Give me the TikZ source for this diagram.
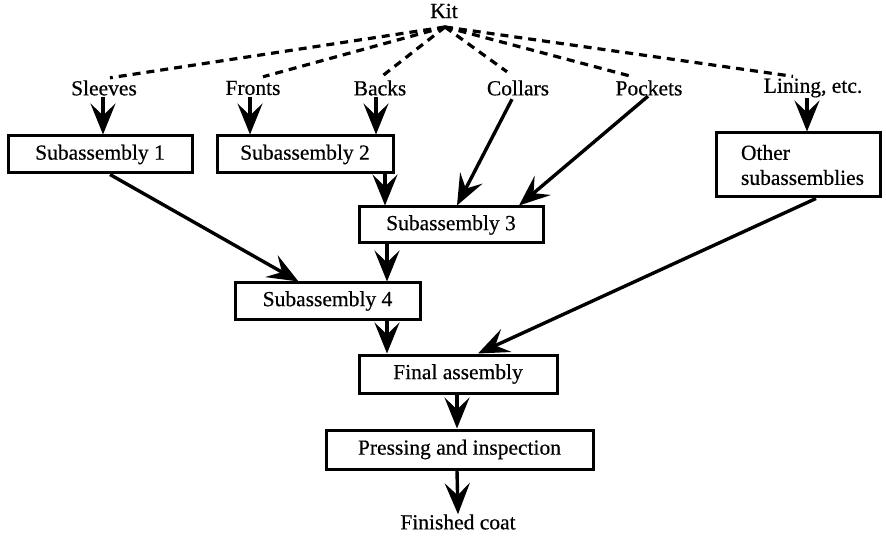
\documentclass[tikz,border=0pt]{standalone}
\usepackage{fontspec}
\setmainfont{Liberation Serif}[FakeBold=0.5]
\usetikzlibrary{arrows.meta,calc}
\begin{document}
\begin{tikzpicture}[x=1pt,y=-1pt,
  every node/.style={font=\fontsize{21.5}{24}\selectfont, inner sep=0pt},
  box/.style={draw, line width=3pt, minimum height=37pt},
  lbl/.style={minimum height=18pt},
  arr/.style={line width=3.4pt, -{Stealth[length=31pt,width=25pt,inset=12pt]}},
  dsh/.style={line width=3.2pt, dash pattern=on 8pt off 6pt}]
\useasboundingbox (0,0) rectangle (886,537);
% labels
\node (kit) at (444,11) {Kit};
\coordinate (apex) at (445,27);
\node[lbl] (sleeves) at (104,88) {Sleeves};
\node[lbl] (fronts) at (253,88) {Fronts};
\node[lbl] (backs) at (380,88) {Backs};
\node[lbl] (collars) at (518,88) {Collars};
\node[lbl] (pockets) at (649,88) {Pockets};
\node[lbl] (lining) at (813,88) {Lining, etc.};
% boxes
\node[box, minimum width=184pt] (s1) at (100,154.5) {Subassembly 1};
\node[box, minimum width=176pt] (s2) at (305,154.5) {Subassembly 2};
\node[box, minimum width=184pt, minimum height=36pt] (s3) at (451,225) {Subassembly 3};
\node[box, minimum width=185pt, minimum height=36pt] (s4) at (327.5,301) {Subassembly 4};
\node[box, minimum width=164pt, minimum height=64pt, align=left, text width=114pt] (oth) at (798,165) {Other\\[1pt]subassemblies};
\node[box, minimum width=198pt, minimum height=38pt] (fin) at (458,374) {Final assembly};
\node[box, minimum width=267pt, minimum height=39pt] (prs) at (459.5,449.5) {Pressing and inspection};
\node (coat) at (458,522) {Finished coat};
% dashed lines from kit
\draw[dsh] (apex) -- ($(sleeves.north)+(6,-1)$);
\draw[dsh] (apex) -- ($(fronts.north)+(10,-2)$);
\draw[dsh] (apex) -- ($(backs.north)+(0,-1)$);
\draw[dsh] (apex) -- ($(collars.north)+(-11,-7)$);
\draw[dsh] (apex) -- ($(pockets.north)+(-16,-2)$);
\draw[dsh] (apex) -- ($(lining.north)+(-20,-2)$);
% arrows
\draw[arr] ($(sleeves.south)+(-1,0)$) -- ($(s1.north)+(3,0)$);
\draw[arr] ($(fronts.south)+(-3,0)$) -- ($(s2.north)+(-55,0)$);
\draw[arr] ($(backs.south)+(-4,0)$) -- ($(s2.north)+(71,0)$);
\draw[arr] ($(lining.south)+(-6,0)$) -- ($(oth.north)+(9,0)$);
\draw[arr] ($(s2.south)+(80,0)$) -- ($(s3.north)+(-66,0)$);
\draw[arr] ($(collars.south)+(-6,2)$) -- ($(s3.north)+(6,0)$);
\draw[arr] ($(pockets.south)+(-1,-1)$) -- ($(s3.north)+(68,0)$);
\draw[arr] ($(s1.south)+(10,0)$) -- ($(s4.north)+(-29,0)$);
\draw[arr] ($(s3.south)+(-64,0)$) -- ($(s4.north)+(59.5,0)$);
\draw[arr] ($(s4.south)+(59.5,0)$) -- ($(fin.north)+(-71,0)$);
\draw[arr] ($(oth.south)+(18,0)$) -- ($(fin.north)+(20,0)$);
\draw[arr] ($(fin.south)+(-1,0)$) -- ($(prs.north)+(-2.5,0)$);
\draw[arr] ($(prs.south)+(-2.5,0)$) -- (coat.north);
\end{tikzpicture}
\end{document}
